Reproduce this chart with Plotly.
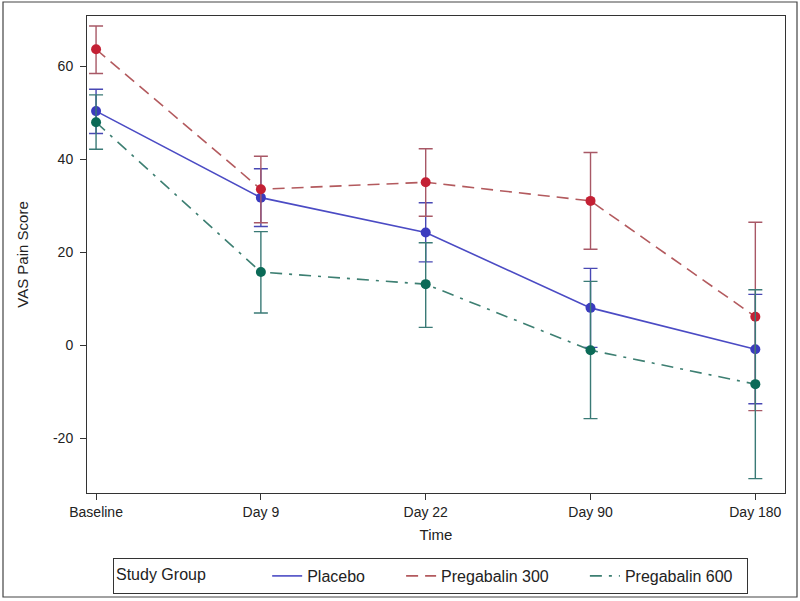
import plotly.graph_objects as go

categories = ["Baseline", "Day 9", "Day 22", "Day 90", "Day 180"]

placebo_mean = [50.3, 31.7, 24.2, 8.0, -0.9]
placebo_upper = [55.0, 37.9, 30.6, 16.5, 10.9]
placebo_lower = [45.5, 25.5, 17.9, -0.5, -12.6]

preg300_mean = [63.6, 33.5, 35.0, 31.0, 6.1]
preg300_upper = [68.6, 40.6, 42.2, 41.4, 26.4]
preg300_lower = [58.4, 26.3, 27.7, 20.6, -14.1]

preg600_mean = [47.9, 15.7, 13.1, -1.1, -8.4]
preg600_upper = [53.8, 24.4, 22.0, 13.7, 11.9]
preg600_lower = [42.1, 6.9, 3.8, -15.8, -28.7]

y_ticks = [-20, 0, 20, 40, 60]
y_tick_text = ["-20", "0", "20", "40", "60"]

series = [
    ("Placebo", placebo_mean, placebo_upper, placebo_lower,
     "#4b4bc4", "#3b3bbf", "#4848b4", "solid", 7),
    ("Pregabalin 300", preg300_mean, preg300_upper, preg300_lower,
     "#b35a5e", "#c42034", "#a85866", "12px,7px", 7),
    ("Pregabalin 600", preg600_mean, preg600_upper, preg600_lower,
     "#3d7f72", "#0b6a57", "#3a7a76", "12px,7px,3px,7px", 2),
]

fig = go.Figure()
for name, mean, up, lo, lcol, mcol, ecol, dash, npad in series:
    fig.add_trace(go.Scatter(
        x=categories, y=mean, name=name, mode="lines+markers",
        line=dict(color=lcol, width=1.6, dash=dash),
        marker=dict(color=mcol, size=10),
        showlegend=False,
        error_y=dict(type="data", symmetric=False,
                     array=[u - m for u, m in zip(up, mean)],
                     arrayminus=[m - l for m, l in zip(mean, lo)],
                     color=ecol, thickness=1.4, width=7),
    ))

for name, mean, up, lo, lcol, mcol, ecol, dash, npad in series:
    fig.add_trace(go.Scatter(
        x=[None], y=[None], name=name + "\u00a0" * npad, mode="lines",
        line=dict(color=lcol, width=1.6, dash=dash), showlegend=True,
    ))

base_font = dict(family="Liberation Sans, Arial, sans-serif", size=14, color="#222")
fig.update_layout(
    width=800, height=601,
    margin=dict(l=87, r=15, t=16, b=108),
    paper_bgcolor="white", plot_bgcolor="white",
    font=base_font,
    showlegend=True,
    legend=dict(
        orientation="h", xref="container", yref="container",
        x=113 / 800, xanchor="left", y=1 - 576 / 601, yanchor="middle",
        title=dict(text="Study Group" + "\u00a0" * 12, side="left", font=dict(size=16)),
        bordercolor="#333", borderwidth=1, font=dict(size=16),
        itemwidth=30, tracegroupgap=0,
    ),
    xaxis=dict(
        type="category", range=[-0.055, 4.18], automargin=False,
        showline=True, linecolor="#333", linewidth=1, mirror=True,
        ticks="outside", ticklen=6, tickcolor="#333", showgrid=False, zeroline=False,
        title=dict(text="Time", font=dict(size=15), standoff=10),
    ),
    yaxis=dict(
        range=[-31.8, 70.75], tickvals=y_ticks, ticktext=y_tick_text, automargin=False,
        showline=True, linecolor="#333", linewidth=1, mirror=True,
        ticks="outside", ticklen=6, tickcolor="#333", showgrid=False, zeroline=False,
        ticklabelstandoff=4,
        title=dict(text="VAS Pain Score", font=dict(size=15), standoff=20),
    ),
)

# outer border around the whole figure
fig.add_shape(type="rect", xref="paper", yref="paper",
              x0=(3 - 87) / 698, x1=(797 - 87) / 698,
              y0=(493 - 597) / 477, y1=(493 - 2) / 477,
              line=dict(color="#444", width=1.2), fillcolor="rgba(0,0,0,0)",
              layer="below")

fig.write_html("out.html", config={"displayModeBar": False},
               post_script="document.body.style.margin='0';document.body.style.padding='0';")
